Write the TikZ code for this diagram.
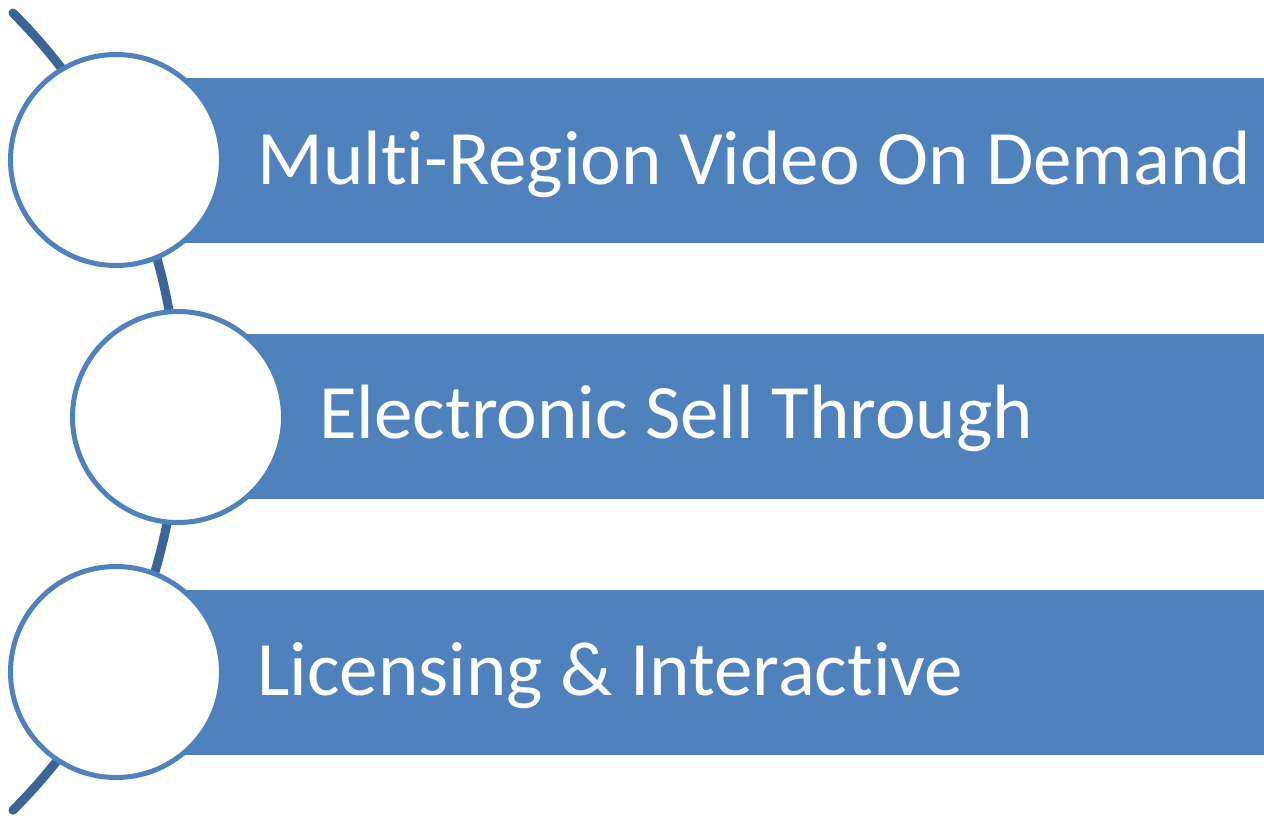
\documentclass[tikz,border=0pt]{standalone}
\usepackage{fontspec}
\setmainfont{Carlito}[Ligatures=NoCommon]
\definecolor{barblue}{RGB}{79,129,189}
\definecolor{arcblue}{RGB}{60,100,150}

\begin{document}
\begin{tikzpicture}[x=1pt, y=-1pt,
    bar/.style={rectangle, fill=barblue, inner sep=0, minimum width=1148pt, minimum height=165pt, anchor=west},
    disc/.style={circle, draw=barblue, line width=5pt, fill=white, minimum size=211pt, inner sep=0},
    label/.style={anchor=base west, inner sep=0, text=white, font=\fontsize{77}{92}\selectfont}]
    \useasboundingbox (0,0) rectangle (1264,823);

    % Define the curved line behind the circles
    \draw[arcblue, line width=9pt, line cap=round] (13,13) arc[start angle=-45, end angle=45, radius=563.7];

    % Define bars
    \node[bar] (b1) at (116,160.5) {};
    \node[bar] (b2) at (178,416.5) {};
    \node[bar] (b3) at (116,672.5) {};

    % Define circles
    \node[disc] (c1) at (116,160) {};
    \node[disc] (c2) at (178,417) {};
    \node[disc] (c3) at (116,672) {};

    % Draw texts
    \node[label] (t1) at (257,184) {Multi-Region Video On Demand};
    \node[label] (t2) at (319,438) {Electronic Sell Through};
    \node[label] (t3) at (257,695) {Licensing \& Interactive};
\end{tikzpicture}
\end{document}
